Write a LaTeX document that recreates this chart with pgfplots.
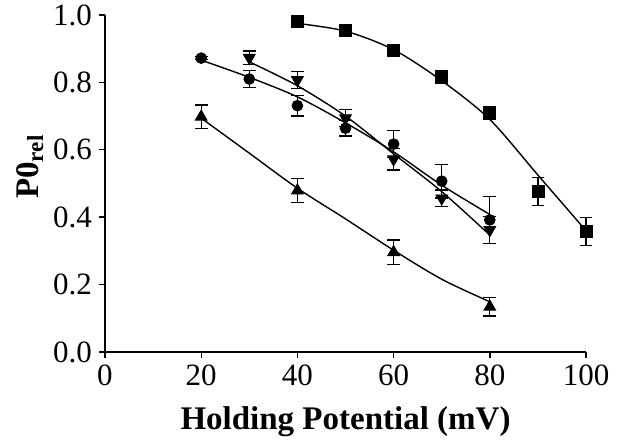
\documentclass[border=0pt]{standalone}
\usepackage{pgfplots}
\pgfplotsset{compat=1.18}
\usepackage{fontspec}
\setmainfont{Liberation Serif}
\usetikzlibrary{calc}
\begin{document}
\begin{tikzpicture}
\begin{axis}[
  scale only axis,
  width=240.5pt, height=168.5pt,
  xmin=0, xmax=100, ymin=0, ymax=1.0,
  axis x line=bottom, axis y line=left,
  axis line style={line width=0.7pt, -},
  xtick={0,20,...,100}, ytick={0,0.2,...,1.0},
  tick align=outside, major tick length=3pt,
  tick style={line width=0.7pt, black},
  /pgf/number format/assume math mode=true,
  /pgf/number format/.cd, fixed, fixed zerofill, precision=1, /pgfplots/.cd,
  xticklabel={\pgfmathprintnumber[fixed,precision=0]{\tick}},
  tick label style={font=\fontsize{15.5}{18}\selectfont},
  xlabel={\bfseries Holding Potential (mV)},
  ylabel={\bfseries P0\textsubscript{rel}},
  label style={font=\fontsize{16.5}{19}\selectfont},
  xlabel style={yshift=-3.5pt},
  ylabel style={at={(ticklabel cs:0.55)}, yshift=-2pt},
  clip=false,
]
% fitted curves
\addplot[black, line width=0.7pt, smooth, no marks] coordinates {
 (40,0.975) (50,0.952) (60,0.897) (70,0.805) (80,0.690) (90,0.525) (100,0.360)};
\addplot[black, line width=0.7pt, smooth, no marks] coordinates {
 (20,0.866) (30,0.815) (40,0.757) (50,0.680) (60,0.594) (70,0.495) (80,0.408)};
\addplot[black, line width=0.7pt, smooth, no marks] coordinates {
 (30,0.861) (40,0.790) (50,0.700) (60,0.588) (70,0.476) (80,0.347)};
\addplot[black, line width=0.7pt, smooth, no marks] coordinates {
 (20,0.694) (30,0.590) (40,0.486) (50,0.395) (60,0.302) (70,0.216) (80,0.149)};
% data with error bars
\addplot[black, only marks, mark=square*, mark size=3pt,
  error bars/.cd, y dir=both, y explicit,
  error bar style={line width=0.65pt}, error mark options={rotate=90, mark size=3.2pt, line width=0.65pt}]
 coordinates {
 (40,0.982) +- (0,0.005)
 (50,0.955) +- (0,0.005)
 (60,0.896) +- (0,0.008)
 (70,0.816) +- (0,0.020)
 (80,0.709) +- (0,0.020)
 (90,0.476) +- (0,0.042)
 (100,0.357) +- (0,0.042)};
\addplot[black, only marks, mark=*, mark size=2.7pt,
  error bars/.cd, y dir=both, y explicit,
  error bar style={line width=0.65pt}, error mark options={rotate=90, mark size=3.2pt, line width=0.65pt}]
 coordinates {
 (20,0.872) +- (0,0.005)
 (30,0.810) +- (0,0.026)
 (40,0.731) +- (0,0.031)
 (50,0.664) +- (0,0.023)
 (60,0.617) +- (0,0.040)
 (70,0.507) +- (0,0.050)
 (80,0.392) +- (0,0.070)};
\addplot[black, only marks, mark=triangle*, mark size=3.4pt, mark options={rotate=180},
  error bars/.cd, y dir=both, y explicit,
  error bar style={line width=0.65pt}, error mark options={rotate=90, mark size=3.2pt, line width=0.65pt}]
 coordinates {
 (30,0.873) +- (0,0.020)
 (40,0.807) +- (0,0.026)
 (50,0.694) +- (0,0.025)
 (60,0.572) +- (0,0.032)
 (70,0.456) +- (0,0.025)
 (80,0.362) +- (0,0.040)};
\addplot[black, only marks, mark=triangle*, mark size=3.4pt,
  error bars/.cd, y dir=both, y explicit,
  error bar style={line width=0.65pt}, error mark options={rotate=90, mark size=3.2pt, line width=0.65pt}]
 coordinates {
 (20,0.698) +- (0,0.035)
 (40,0.479) +- (0,0.035)
 (60,0.296) +- (0,0.036)
 (80,0.134) +- (0,0.027)};
\end{axis}
\pgfresetboundingbox
\path ($(current axis.south west)+(-52.5pt,-45.5pt)$) rectangle ($(current axis.north east)+(27pt,7.5pt)$);
\end{tikzpicture}
\end{document}
